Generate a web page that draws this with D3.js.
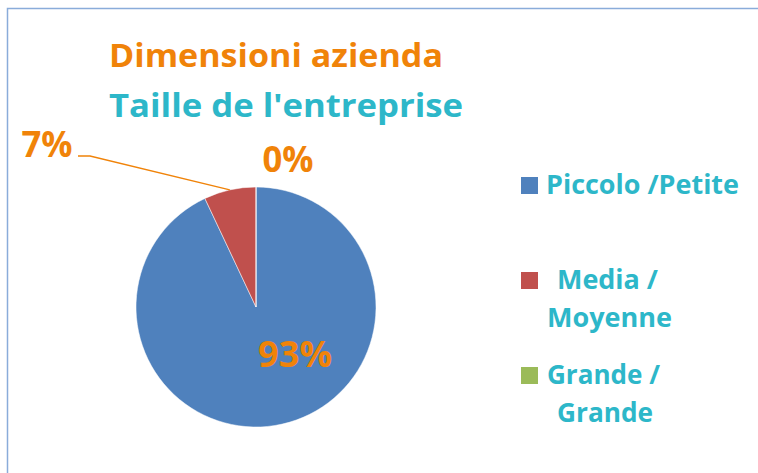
<!DOCTYPE html>
<html>
<head>
<meta charset="utf-8">
<script src="https://cdn.jsdelivr.net/npm/d3@7"></script>
<style>
  body { margin: 0; background: #fff; }
  svg { display: block; }
  text { font-family: "Open Sans", Lato, sans-serif; font-weight: bold; }
</style>
</head>
<body>
<div id="chart"></div>
<script>
// data
const categories = ["Piccolo /Petite", "Media / Moyenne", "Grande / Grande"];
const legendLines = [["Piccolo /Petite"], [" Media /", "Moyenne"], ["Grande /", " Grande"]];
const values = [93, 7, 0];
const titleLines = ["Dimensioni azienda", "Taille de l'entreprise"];

const width = 758, height = 473;
const colors = ["#4F81BD", "#C0504D", "#9BBB59"];
const orange = "#F08309", teal = "#2DB7C9";

const svg = d3.select("#chart")
  .append("svg")
    .attr("width", width)
    .attr("height", height);

// chart area border
svg.append("rect")
  .attr("x", 7.5).attr("y", 8.5)
  .attr("width", width + 20).attr("height", height + 20)
  .attr("fill", "none")
  .attr("stroke", "#8AACDA")
  .attr("stroke-width", 1.5);

// title
const titleColors = [orange, teal];
const titleBase = [67, 117];
const titleWidths = [334, 354];
titleLines.forEach(function(t, i) {
  svg.append("text")
    .attr("x", 109).attr("y", titleBase[i])
    .attr("font-size", 33)
    .attr("fill", titleColors[i])
    .attr("textLength", titleWidths[i])
    .attr("lengthAdjust", "spacingAndGlyphs")
    .text(t);
});

// pie
const cx = 256, cy = 307, r = 120;
const g = svg.append("g").attr("transform", `translate(${cx},${cy})`);

const pie = d3.pie().sort(null).value(function(d) { return d; });
const arcs = pie(values);
const arc = d3.arc().innerRadius(0).outerRadius(r);
const edge = d3.arc().innerRadius(r).outerRadius(r);
const total = d3.sum(values);
const pct = d3.format(".0%");

g.selectAll("path.slice")
  .data(arcs)
  .enter().append("path")
    .attr("class", "slice")
    .attr("d", arc)
    .attr("fill", function(d, i) { return colors[i]; })
    .attr("stroke", "#fff")
    .attr("stroke-width", 0.5);

// data labels (placement offsets from pie centre)
const labelPos = [[39, 60], [-209, -150], [32, -135]];
const labelWidths = [74, 51, 51];
g.selectAll("text.lbl")
  .data(arcs)
  .enter().append("text")
    .attr("class", "lbl")
    .attr("x", function(d, i) { return labelPos[i][0] - labelWidths[i] / 2; })
    .attr("y", function(d, i) { return labelPos[i][1]; })
    .attr("font-size", 36)
    .attr("fill", orange)
    .attr("textLength", function(d, i) { return labelWidths[i]; })
    .attr("lengthAdjust", "spacingAndGlyphs")
    .text(function(d) { return pct(d.data / total); });

// leader line for the small slice
const tip = edge.centroid(arcs[1]);
g.append("path")
  .attr("d", d3.line()([[-178, -151], [-166, -151], tip]))
  .attr("fill", "none")
  .attr("stroke", orange)
  .attr("stroke-width", 1.3);

// legend
const legY = [194, 289, 384];
const lineX = [[546], [557, 547], [547, 557]];
const lineW = [[193], [101, 125], [113, 96]];
const leg = svg.append("g");
categories.forEach(function(c, i) {
  leg.append("rect")
    .attr("x", 521).attr("y", legY[i] - 17)
    .attr("width", 17).attr("height", 17)
    .attr("fill", colors[i]);
  legendLines[i].forEach(function(line, j) {
    leg.append("text")
      .attr("x", lineX[i][j]).attr("y", legY[i] + j * 38)
      .attr("font-size", 26)
      .attr("fill", teal)
      .attr("textLength", lineW[i][j])
      .attr("lengthAdjust", "spacingAndGlyphs")
      .text(line.trim());
  });
});
</script>
</body>
</html>
